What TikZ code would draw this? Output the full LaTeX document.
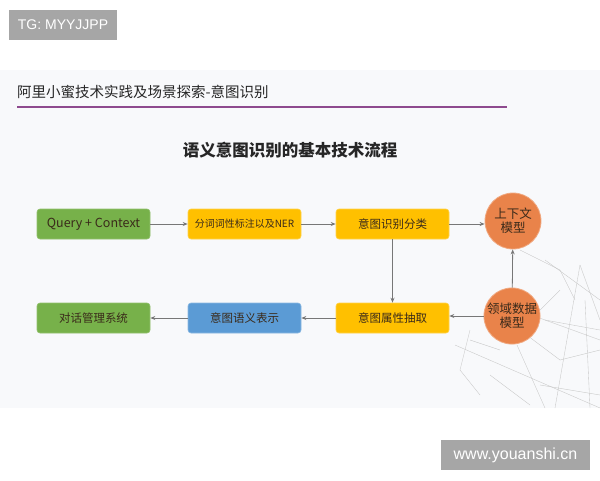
\documentclass[tikz,border=0pt]{standalone}
\usepackage{fontspec}
\setmainfont{Noto Sans CJK SC}
\newfontfamily\latin{Liberation Sans}
\usetikzlibrary{arrows.meta}
\definecolor{qgreen}{HTML}{77B14A}
\definecolor{qyellow}{HTML}{FFC000}
\definecolor{qblue}{HTML}{5B9BD5}
\definecolor{qorange}{HTML}{E9834A}
\definecolor{qgray}{HTML}{777777}
\definecolor{wmgray}{HTML}{A6A6A6}
\definecolor{slidebg}{HTML}{F8F9FB}
\definecolor{qline}{HTML}{8E4A8E}
\definecolor{txt}{HTML}{3A2A1A}
\tikzset{
  boxbase/.style={rounded corners=3pt, minimum width=113pt, minimum height=30pt, inner sep=0pt, text=txt, font=\fontsize{11.5}{13}\selectfont},
  greenbox/.style={boxbase, fill=qgreen, draw=qgreen!80!white, line width=0.6pt},
  yellowbox/.style={boxbase, fill=qyellow, draw=qyellow!70!white, line width=0.6pt},
  bluebox/.style={boxbase, fill=qblue, draw=qblue!70!white, line width=0.6pt},
  circ/.style={circle, fill=qorange, draw=qorange!70!white, line width=0.8pt, minimum size=56pt, inner sep=0pt, text=txt, align=center, font=\fontsize{12.5}{14}\selectfont},
  flow/.style={draw=qgray, line width=0.8pt, -{Stealth[length=5pt,width=4pt]}},
  wm/.style={fill=wmgray, text=white, inner sep=0pt},
  net/.style={draw=gray!45, line width=0.35pt}
}
\begin{document}
\begin{tikzpicture}[x=1pt,y=-1pt]
\useasboundingbox (0,0) rectangle (600,480);
\fill[white] (0,0) rectangle (600,480);
\fill[slidebg] (0,70) rectangle (600,408);
% decorative network lines
\begin{scope}
\clip (440,240) rectangle (600,408);
\draw[net] (455,345) -- (600,408);
\draw[net] (490,300) -- (600,340);
\draw[net] (545,260) -- (600,300);
\draw[net] (580,265) -- (555,408);
\draw[net] (580,265) -- (600,320);
\draw[net] (517,345) -- (545,408);
\draw[net] (560,290) -- (520,330) -- (560,360);
\draw[net] (560,360) -- (600,350);
\draw[net] (545,320) -- (600,330);
\draw[net] (470,330) -- (460,370) -- (480,395);
\draw[net] (490,375) -- (530,405);
\draw[net] (520,250) -- (560,270) -- (575,300);
\draw[net] (585,300) -- (590,408);
\draw[net] (540,385) -- (600,395);
\draw[net] (500,350) -- (470,340);
\end{scope}
% watermarks
\node[wm, minimum width=108pt, minimum height=30pt, font=\latin\fontsize{14}{16}\selectfont] (tg) at (63,25) {TG: MYYJJPP};
\node[wm, minimum width=149pt, minimum height=30pt, font=\latin\fontsize{16}{18}\selectfont] (site) at (515.5,455) {www.youanshi.cn};
% title
\node[anchor=west, inner sep=0pt, font=\fontsize{14.5}{16}\selectfont, text=black!85] (title) at (17,92) {阿里小蜜技术实践及场景探索-意图识别};
\draw[qline, line width=1.3pt] (17,107) -- (507,107);
\node[inner sep=0pt, font=\bfseries\fontsize{16.5}{18}\selectfont, text=black!85] (heading) at (290,150) {语义意图识别的基本技术流程};
% row 1
\node[greenbox, font=\fontsize{12.5}{14}\selectfont] (qc) at (93.5,224) {Query + Context};
\node[yellowbox, font=\fontsize{10}{12}\selectfont] (seg) at (244.5,224) {分词词性标注以及NER};
\node[yellowbox] (cls) at (392.5,224) {意图识别分类};
\node[circ] (ctx) at (513,221) {上下文\\模型};
% row 2
\node[greenbox] (dm) at (93.5,318) {对话管理系统};
\node[bluebox] (rep) at (244.5,318) {意图语义表示};
\node[yellowbox] (ext) at (392.5,318) {意图属性抽取};
\node[circ] (dom) at (512,316) {领域数据\\模型};
% connectors
\draw[flow] (qc) -- (seg);
\draw[flow] (seg) -- (cls);
\draw[flow] (cls) -- (cls -| ctx.west);
\draw[flow] (cls) -- (ext);
\draw[flow] (dom) -- (ctx);
\draw[flow] (dom) -- (dom -| ext.east);
\draw[flow] (ext) -- (rep);
\draw[flow] (rep) -- (dm);
\end{tikzpicture}
\end{document}
